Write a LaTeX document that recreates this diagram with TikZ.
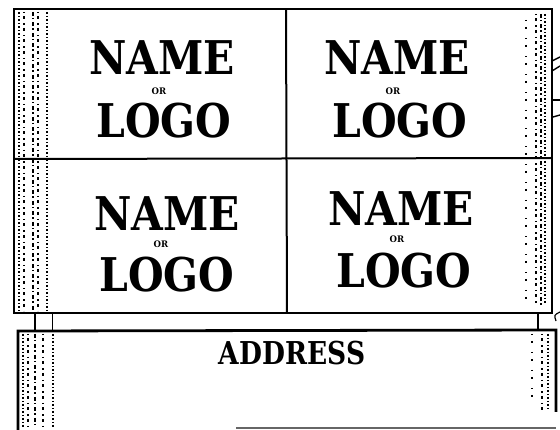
\documentclass[tikz,border=0pt]{standalone}
\usepackage{fontspec}
\newfontfamily\heavyserif{DejaVu Serif}
\begin{document}
\begin{tikzpicture}[x=1pt,y=-1pt,
  frame/.style={line width=2.8pt,black},
  divider/.style={line width=2pt,black},
  bigword/.style={font=\heavyserif\bfseries\fontsize{46.5}{47}\selectfont,xscale=0.88,transform shape,inner sep=0pt,anchor=base},
  tinyword/.style={font=\heavyserif\bfseries\fontsize{9}{9}\selectfont,xscale=0.95,transform shape,inner sep=0pt,anchor=base},
  addrword/.style={font=\heavyserif\bfseries\fontsize{31.5}{32}\selectfont,xscale=0.84,transform shape,inner sep=0pt,anchor=base},
  hatchA/.style={line width=1.5pt,dash pattern=on 2.5pt off 1.5pt on 1pt off 2pt},
  hatchB/.style={line width=1.2pt,dash pattern=on 4pt off 2pt on 1.5pt off 3pt},
  hatchC/.style={line width=1.1pt,dash pattern=on 1.5pt off 3pt on 3pt off 4pt},
  hatchD/.style={line width=1.1pt,dash pattern=on 1pt off 6pt on 2pt off 9pt}]
\useasboundingbox (0,0) rectangle (560,430);
\fill[white] (0,0) rectangle (560,430);

% main 2x2 grid
\coordinate (gtl) at (14,9);
\coordinate (gbr) at (552,313);
\draw[frame] (gtl) rectangle (gbr);
\coordinate (vt) at (286,9);
\coordinate (vb) at (287,313);
\draw[divider] (vt) -- (vb);
\coordinate (hl) at (14,159);
\coordinate (hr) at (552,158);
\draw[divider] (hl) -- (hr);

% thin strip
\coordinate (sl1) at (35,313);
\coordinate (sl2) at (35,331);
\draw[line width=1.6pt] (sl1) -- (sl2);
\coordinate (sr1) at (538,313);
\coordinate (sr2) at (538,331);
\draw[line width=1.6pt] (sr1) -- (sr2);
\draw[line width=0.8pt] (52,313) -- (52,331);

% address panel
\coordinate (atl) at (18,331);
\coordinate (atr) at (556,330);
\draw[frame] (18,430) -- (atl) -- (atr) -- (556,412);
\draw[line width=1.4pt,black!60] (236,428) -- (556,428);

% left hatching (top grid)
\draw[hatchA] (19,12) -- (19,311);
\draw[hatchC] (24,12) -- (24,311);
\draw[hatchB] (33,12) -- (33,311);
\draw[hatchC] (38,12) -- (38,311);
\draw[hatchA] (47,12) -- (47,311);
% left hatching (address panel)
\draw[hatchA] (23,334) -- (23,428);
\draw[hatchC] (28,334) -- (28,428);
\draw[hatchB] (35,334) -- (35,428);
\draw[hatchC] (43,334) -- (43,428);
\draw[hatchA] (53,334) -- (53,428);
% right hatching
\draw[hatchA] (545,14) -- (545,305);
\draw[hatchB] (541,14) -- (541,305);
\draw[hatchC] (536,14) -- (536,305);
\draw[hatchD] (526,20) -- (526,300);
\draw[hatchA] (548,334) -- (548,410);
\draw[hatchC] (542,334) -- (542,410);
\draw[hatchD] (532,334) -- (532,400);

% right edge stubs
\draw[line width=1.4pt] (552,61) -- (560,57);
\draw[line width=1.4pt] (552,71) .. controls (556,68) .. (560,66);
\draw[line width=1.4pt] (552,100) -- (560,100);
\draw[line width=1.4pt] (553,117) -- (560,115);
\draw[line width=1.2pt] (560,312) .. controls (554,315) .. (556,321);

% texts
\node[bigword] (n1) at (162,75) {NAME};
\node[tinyword] (o1) at (159,95) {OR};
\node[bigword] (l1) at (164,138) {LOGO};

\node[bigword] (n2) at (397,75) {NAME};
\node[tinyword] (o2) at (393,95) {OR};
\node[bigword] (l2) at (400,138) {LOGO};

\node[bigword] (n3) at (167,231) {NAME};
\node[tinyword] (o3) at (161,248) {OR};
\node[bigword] (l3) at (167,292) {LOGO};

\node[bigword] (n4) at (401,226) {NAME};
\node[tinyword] (o4) at (397,243) {OR};
\node[bigword] (l4) at (404,288) {LOGO};

\node[addrword] (addr) at (292,365) {ADDRESS};
\end{tikzpicture}
\end{document}
